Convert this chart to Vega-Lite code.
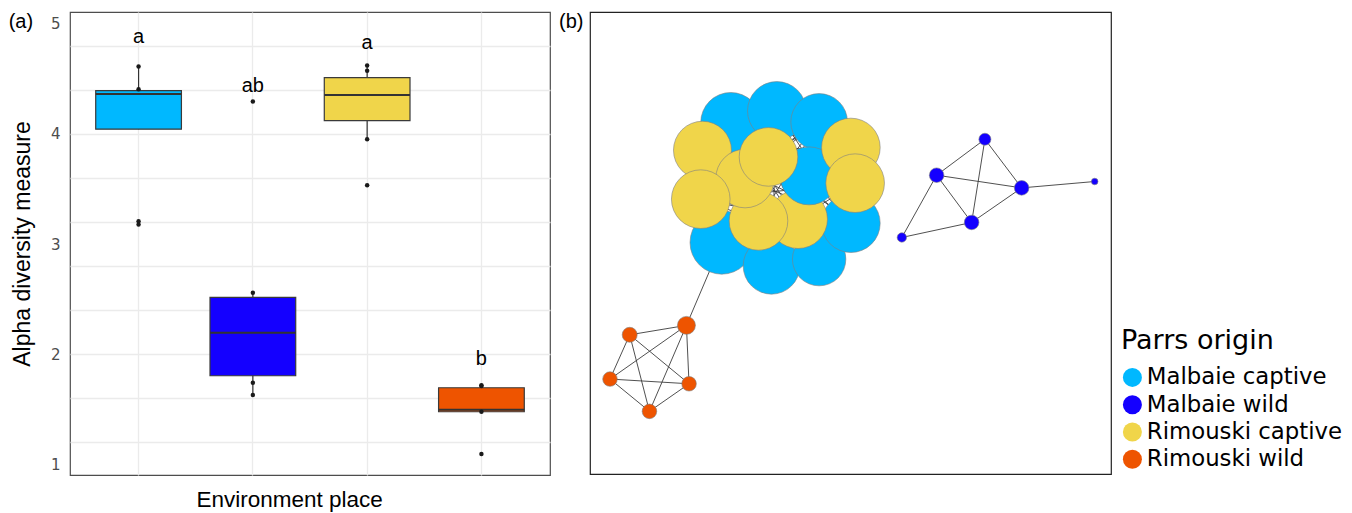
{
  "$schema": "https://vega.github.io/schema/vega-lite/v6.json",
  "background": "white",
  "padding": {"left": 8, "top": 11, "right": 5, "bottom": 0},
  "autosize": {"type": "pad"},
  "bounds": "flush",
  "spacing": 40,
  "config": {"font": "Liberation Sans"},
  "resolve": {"scale": {"color": "independent", "x": "independent", "y": "independent", "size": "independent"}},
  "datasets": {
    "boxes": [
      {"group": "Malbaie captive", "lower": 4.043, "q1": 4.043, "median": 4.363, "q3": 4.394, "upper": 4.612, "letter": "a", "ly": 4.83},
      {"group": "Malbaie wild", "lower": 1.628, "q1": 1.803, "median": 2.193, "q3": 2.515, "upper": 2.557, "letter": "ab", "ly": 4.385},
      {"group": "Rimouski captive", "lower": 3.952, "q1": 4.122, "median": 4.354, "q3": 4.512, "upper": 4.621, "letter": "a", "ly": 4.775},
      {"group": "Rimouski wild", "lower": 1.476, "q1": 1.476, "median": 1.494, "q3": 1.694, "upper": 1.718, "letter": "b", "ly": 1.9}
    ],
    "points": [
      {"group": "Malbaie captive", "value": 4.612},
      {"group": "Malbaie captive", "value": 4.406},
      {"group": "Malbaie captive", "value": 3.207},
      {"group": "Malbaie captive", "value": 3.177},
      {"group": "Malbaie wild", "value": 4.294},
      {"group": "Malbaie wild", "value": 2.557},
      {"group": "Malbaie wild", "value": 1.739},
      {"group": "Malbaie wild", "value": 1.628},
      {"group": "Rimouski captive", "value": 4.621},
      {"group": "Rimouski captive", "value": 4.575},
      {"group": "Rimouski captive", "value": 3.952},
      {"group": "Rimouski captive", "value": 3.534},
      {"group": "Rimouski wild", "value": 1.718},
      {"group": "Rimouski wild", "value": 1.71},
      {"group": "Rimouski wild", "value": 1.476},
      {"group": "Rimouski wild", "value": 1.092}
    ],
    "nodes": [
      {"id": "LB2", "grp": "Malbaie captive", "x": 27.02, "y": 76.08, "w": 28.3},
      {"id": "LB1", "grp": "Malbaie captive", "x": 35.86, "y": 78.59, "w": 27},
      {"id": "LB3", "grp": "Malbaie captive", "x": 43.98, "y": 76.21, "w": 25.2},
      {"id": "LB8", "grp": "Malbaie captive", "x": 25.29, "y": 50.12, "w": 31.6},
      {"id": "LB7", "grp": "Malbaie captive", "x": 34.84, "y": 45.06, "w": 25.2},
      {"id": "LB6", "grp": "Malbaie captive", "x": 43.98, "y": 46.51, "w": 22.4},
      {"id": "LB5", "grp": "Malbaie captive", "x": 50.07, "y": 54.29, "w": 27},
      {"id": "Y1", "grp": "Rimouski captive", "x": 21.59, "y": 70.08, "w": 26.4},
      {"id": "Y8", "grp": "Rimouski captive", "x": 39.95, "y": 55.16, "w": 27},
      {"id": "LB4", "grp": "Malbaie captive", "x": 42.06, "y": 64.53, "w": 26.4},
      {"id": "Y7", "grp": "Rimouski captive", "x": 32.34, "y": 54.79, "w": 27},
      {"id": "Y2", "grp": "Rimouski captive", "x": 29.77, "y": 63.96, "w": 27},
      {"id": "Y3", "grp": "Rimouski captive", "x": 34.26, "y": 68.64, "w": 27},
      {"id": "Y4", "grp": "Rimouski captive", "x": 50.07, "y": 70.67, "w": 27},
      {"id": "Y5", "grp": "Rimouski captive", "x": 50.89, "y": 62.95, "w": 27},
      {"id": "Y6", "grp": "Rimouski captive", "x": 21.26, "y": 59.49, "w": 27},
      {"id": "O1", "grp": "Rimouski wild", "x": 18.51, "y": 32.17, "w": 2.54},
      {"id": "O2", "grp": "Rimouski wild", "x": 7.62, "y": 30.13, "w": 1.77},
      {"id": "O3", "grp": "Rimouski wild", "x": 3.84, "y": 20.55, "w": 1.67},
      {"id": "O4", "grp": "Rimouski wild", "x": 19.01, "y": 19.53, "w": 1.67},
      {"id": "O5", "grp": "Rimouski wild", "x": 11.41, "y": 13.56, "w": 1.67},
      {"id": "N1", "grp": "Malbaie wild", "x": 75.8, "y": 72.46, "w": 1.13},
      {"id": "N2", "grp": "Malbaie wild", "x": 66.53, "y": 64.68, "w": 1.67},
      {"id": "N3", "grp": "Malbaie wild", "x": 82.85, "y": 61.93, "w": 1.67},
      {"id": "N4", "grp": "Malbaie wild", "x": 73.25, "y": 54.45, "w": 1.67},
      {"id": "N5", "grp": "Malbaie wild", "x": 59.86, "y": 51.2, "w": 0.69},
      {"id": "N6", "grp": "Malbaie wild", "x": 96.87, "y": 63.31, "w": 0.34}
    ],
    "edges": [
      {"s": "LB1", "t": ["LB2", "LB3", "LB4", "LB5", "LB6", "LB7", "LB8", "Y1", "Y2", "Y3", "Y4", "Y5", "Y6", "Y7", "Y8"]},
      {"s": "LB2", "t": ["LB3", "LB4", "LB5", "LB6", "LB7", "LB8", "Y1", "Y2", "Y3", "Y4", "Y5", "Y6", "Y7", "Y8"]},
      {"s": "LB3", "t": ["LB4", "LB5", "LB6", "LB7", "LB8", "Y1", "Y2", "Y3", "Y4", "Y5", "Y6", "Y7", "Y8"]},
      {"s": "LB4", "t": ["LB5", "LB6", "LB7", "LB8", "Y1", "Y2", "Y3", "Y4", "Y5", "Y6", "Y7", "Y8"]},
      {"s": "LB5", "t": ["LB6", "LB7", "LB8", "Y1", "Y2", "Y3", "Y4", "Y5", "Y6", "Y7", "Y8"]},
      {"s": "LB6", "t": ["LB7", "LB8", "Y1", "Y2", "Y3", "Y4", "Y5", "Y6", "Y7", "Y8"]},
      {"s": "LB7", "t": ["LB8", "Y1", "Y2", "Y3", "Y4", "Y5", "Y6", "Y7", "Y8"]},
      {"s": "LB8", "t": ["Y1", "Y2", "Y3", "Y4", "Y5", "Y6", "Y7", "Y8"]},
      {"s": "Y1", "t": ["Y2", "Y3", "Y4", "Y5", "Y6", "Y7", "Y8"]},
      {"s": "Y2", "t": ["Y3", "Y4", "Y5", "Y6", "Y7", "Y8"]},
      {"s": "Y3", "t": ["Y4", "Y5", "Y6", "Y7", "Y8"]},
      {"s": "Y4", "t": ["Y5", "Y6", "Y7", "Y8"]},
      {"s": "Y5", "t": ["Y6", "Y7", "Y8"]},
      {"s": "Y6", "t": ["Y7", "Y8"]},
      {"s": "Y7", "t": ["Y8"]},
      {"s": "O1", "t": ["O2", "O3", "O4", "O5", "LB8"]},
      {"s": "O2", "t": ["O3", "O4", "O5"]},
      {"s": "O3", "t": ["O4", "O5"]},
      {"s": "O4", "t": ["O5"]},
      {"s": "N1", "t": ["N2", "N3", "N4"]},
      {"s": "N2", "t": ["N3", "N4", "N5"]},
      {"s": "N3", "t": ["N4", "N6"]},
      {"s": "N4", "t": ["N5"]}
    ]
  },
  "hconcat": [
    {
      "width": 480,
      "height": 463,
      "view": {"stroke": "#4d4d4d", "strokeWidth": 1.2},
      "title": {"text": "(a)", "orient": "top", "anchor": "start", "frame": "group", "offset": 0, "dx": -61.3, "dy": 35.6, "baseline": "alphabetic", "align": "left", "font": "Liberation Sans", "fontSize": 20, "fontWeight": "normal", "color": "#000000"},
      "encoding": {
        "x": {
          "field": "group", "type": "nominal",
          "scale": {"domain": ["Malbaie captive", "Malbaie wild", "Rimouski captive", "Rimouski wild"], "paddingInner": 0.25, "paddingOuter": 0.225},
          "axis": {"title": "Environment place", "labels": false, "ticks": false, "tickSize": 0, "domain": false, "grid": true, "gridColor": "#EBEBEB", "gridWidth": 1.3, "bandPosition": 0.5, "titleFont": "Liberation Sans", "titleFontSize": 22.5, "titleFontWeight": "normal", "titleColor": "#000000", "titleX": 219.2, "titleY": 31.7, "titleBaseline": "alphabetic", "titleAlign": "center"}
        }
      },
      "layer": [
        {
          "data": {"name": "boxes"},
          "mark": {"type": "rule", "color": "#333333", "strokeWidth": 1.2},
          "encoding": {
            "y": {
              "field": "lower", "type": "quantitative",
              "scale": {"domain": [0.9015, 5.108], "nice": false, "zero": false},
              "axis": {"values": [1, 1.2, 1.6, 2, 2.4, 2.8, 3, 3.2, 3.6, 4, 4.4, 4.8, 5], "tickCount": 30, "labelExpr": "datum.value % 1 === 0 ? format(datum.value, 'd') : ''", "grid": true, "gridColor": "#EBEBEB", "gridWidth": 1.3, "gridOpacity": {"condition": {"test": "datum.value === 1 || datum.value === 3 || datum.value === 5", "value": 0}, "value": 1}, "ticks": false, "tickSize": 0, "domain": false, "labelFont": "DejaVu Sans", "labelFontSize": 15, "labelColor": "#4d4d4d", "labelPadding": 10, "labelFlush": false, "labelOverlap": false, "title": "Alpha diversity measure", "titleFont": "Liberation Sans", "titleFontSize": 23, "titleFontWeight": "normal", "titleColor": "#000000", "titleX": -41, "titleY": 231.5, "titleAngle": -90, "titleBaseline": "alphabetic", "titleAlign": "center"}
            },
            "y2": {"field": "upper"}
          }
        },
        {
          "data": {"name": "boxes"},
          "mark": {"type": "bar", "stroke": "#3a3a3a", "strokeWidth": 1.2},
          "encoding": {
            "y": {"field": "q1", "type": "quantitative"},
            "y2": {"field": "q3"},
            "color": {"field": "group", "type": "nominal", "scale": {"domain": ["Malbaie captive", "Malbaie wild", "Rimouski captive", "Rimouski wild"], "range": ["#00B8FF", "#1400FF", "#F0D54A", "#EE5400"]}, "legend": null}
          }
        },
        {
          "data": {"name": "boxes"},
          "mark": {"type": "tick", "color": "#333333", "thickness": 2, "size": 85.7, "opacity": 1},
          "encoding": {
            "y": {"field": "median", "type": "quantitative"}
          }
        },
        {
          "data": {"name": "points"},
          "mark": {"type": "circle", "color": "#1a1a1a", "size": 20, "opacity": 1},
          "encoding": {
            "y": {"field": "value", "type": "quantitative"}
          }
        },
        {
          "data": {"name": "boxes"},
          "mark": {"type": "text", "font": "Liberation Sans", "fontSize": 20, "baseline": "alphabetic", "align": "center", "color": "#000000"},
          "encoding": {
            "y": {"field": "ly", "type": "quantitative"},
            "text": {"field": "letter"}
          }
        }
      ]
    },
    {
      "width": 521,
      "height": 462,
      "view": {"stroke": "#222222", "strokeWidth": 1.2},
      "title": {"text": "(b)", "orient": "top", "anchor": "start", "frame": "group", "offset": 0, "dx": -31, "dy": 35.6, "baseline": "alphabetic", "align": "left", "font": "Liberation Sans", "fontSize": 20, "fontWeight": "normal", "color": "#000000"},
      "layer": [
        {
          "data": {"name": "edges"},
          "transform": [
            {"flatten": ["t"]},
            {"lookup": "s", "from": {"data": {"name": "nodes"}, "key": "id", "fields": ["x", "y"]}, "as": ["sx", "sy"]},
            {"lookup": "t", "from": {"data": {"name": "nodes"}, "key": "id", "fields": ["x", "y"]}, "as": ["tx", "ty"]}
          ],
          "mark": {"type": "rule", "color": "#3c3c3c", "strokeWidth": 0.9},
          "encoding": {
            "x": {"field": "sx", "type": "quantitative", "scale": {"domain": [0, 100], "nice": false, "zero": false}, "axis": null},
            "y": {"field": "sy", "type": "quantitative", "scale": {"domain": [0, 100], "nice": false, "zero": false}, "axis": null},
            "x2": {"field": "tx"},
            "y2": {"field": "ty"}
          }
        },
        {
          "data": {"name": "nodes"},
          "mark": {"type": "point", "shape": "circle", "filled": true, "opacity": 1, "stroke": "#808080", "strokeWidth": 0.6},
          "encoding": {
            "x": {"field": "x", "type": "quantitative", "axis": null},
            "y": {"field": "y", "type": "quantitative", "axis": null},
            "size": {"field": "w", "type": "quantitative", "scale": {"type": "linear", "domain": [0, 30], "range": [0, 3820]}, "legend": null},
            "color": {
              "field": "grp", "type": "nominal",
              "scale": {"domain": ["Malbaie captive", "Malbaie wild", "Rimouski captive", "Rimouski wild"], "range": ["#00B8FF", "#1400FF", "#F0D54A", "#EE5400"]},
              "legend": {"orient": "none", "legendX": 531, "legendY": 316, "padding": 0, "title": "Parrs origin", "titleFont": "DejaVu Sans", "titleFontSize": 27, "titleFontWeight": "normal", "titleColor": "#000000", "titlePadding": 11, "titleLimit": 400, "labelFont": "DejaVu Sans", "labelFontSize": 22.8, "labelColor": "#000000", "labelOffset": 3, "labelLimit": 400, "symbolType": "circle", "symbolSize": 361, "symbolStrokeWidth": 0, "symbolOpacity": 1, "rowPadding": 3.3}
            }
          }
        }
      ]
    }
  ]
}
